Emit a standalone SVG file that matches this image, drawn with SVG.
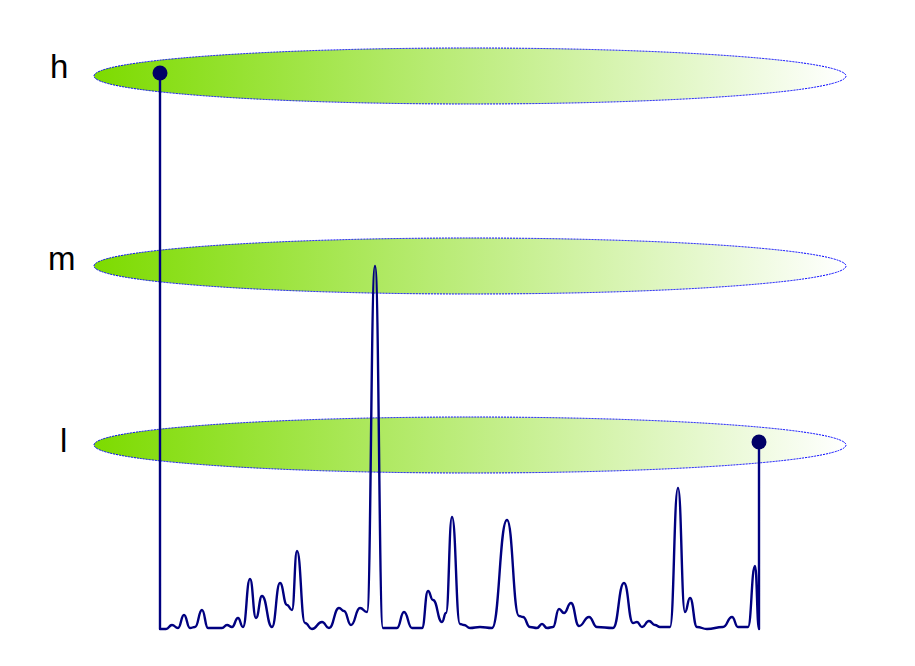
<svg xmlns="http://www.w3.org/2000/svg" width="915" height="666" viewBox="0 0 915 666">
<style>
.lvl{stroke:#0000ff;stroke-width:1;stroke-dasharray:2,1}
.lbl{font-family:"Liberation Sans",Arial,sans-serif;font-size:33px;fill:#000}
.sig{fill:none;stroke:#000080;stroke-width:2.4;stroke-linejoin:round}
.dot{fill:#000066}
</style>
<defs>
<linearGradient id="g" x1="0" y1="0" x2="1" y2="0">
<stop offset="0" stop-color="#7ddb00"/>
<stop offset="1" stop-color="#ffffff"/>
</linearGradient>
</defs>
<rect width="915" height="666" fill="#fff"/>
<g id="level-h">
<ellipse class="lvl" cx="470" cy="76" rx="376" ry="28" fill="url(#g)"/>
<text class="lbl" x="50" y="78">h</text>
</g>
<g id="level-m">
<ellipse class="lvl" cx="470" cy="266" rx="376" ry="28" fill="url(#g)"/>
<text class="lbl" x="48" y="270">m</text>
</g>
<g id="level-l">
<ellipse class="lvl" cx="470" cy="445" rx="376" ry="28" fill="url(#g)"/>
<text class="lbl" x="60" y="452">l</text>
</g>
<g id="connectors">
<path class="sig" d="M160,73 L160,629 C163,629 163,629 166,629 C169,629 169,625 172,625 C175,625 175,628 178,628 C181,628 181,615 184,615 C187,615 187,628 190,628 C192.5,628 192.5,627 195,627 C198.5,627 198.5,610 202,610 C205,610 205,628 208,628 L222,628 C224.5,628 224.5,625 227,625 C229.5,625 229.5,627 232,627 C235,627 235,618 238,618 C240.5,618 240.5,627 243,627 C246.5,627 246.5,579 250,579 C253,579 253,618 256,618 C259,618 259,596 262,596 C267,596 267,627 272,627 C276,627 276,583 280,583 C283.5,583 283.5,605 287,605 C289.5,605 289.5,610 292,610 C294.5,610 294.5,551 297,551 C301,551 301,623 305,623 C308.5,623 308.5,629 312,629 C317,629 317,622 322,622 C325.5,622 325.5,628 329,628 C334,628 334,608 339,608 C341.5,608 341.5,611 344,611 C347.5,611 347.5,625 351,625 C355.5,625 355.5,608 360,608 C363.5,608 363.5,612 367,612 C371,612 371,266 375,266 C379,266 379,628 383,628 L397,628 C400.5,628 400.5,612 404,612 C408,612 408,628 412,628 L422,628 C425,628 425,591 428,591 C430.5,591 430.5,600 433,600 C437.5,600 437.5,622 442,622 C444,622 444,613 446,613 C449,613 449,517 452,517 C456,517 456,624 460,624 C462,624 462,625 464,625 C467,625 467,628 470,628 C475,628 475,627 480,627 C486,627 486,628 492,628 C499.5,628 499.5,520 507,520 C513,520 513,616 519,616 C521,616 521,617 523,617 C526.5,617 526.5,627 530,627 C533.5,627 533.5,628 537,628 C539.5,628 539.5,624 542,624 C544.5,624 544.5,628 547,628 C550,628 550,627 553,627 C556,627 556,609 559,609 C561.5,609 561.5,613 564,613 C567.5,613 567.5,603 571,603 C575,603 575,626 579,626 C584,626 584,617 589,617 C593,617 593,627 597,627 C605,627 605,628 613,628 C618.5,628 618.5,583 624,583 C628.5,583 628.5,623 633,623 C635,623 635,622 637,622 C639.5,622 639.5,627 642,627 C645.5,627 645.5,621 649,621 C652,621 652,625 655,625 C657.5,625 657.5,627 660,627 L670,627 C674,627 674,488 678,488 C681.5,488 681.5,612 685,612 C687.5,612 687.5,598 690,598 C693.5,598 693.5,627 697,627 C702,627 702,629 707,629 C715,629 715,627 723,627 C727.5,627 727.5,617 732,617 C735,617 735,627 738,627 L748,627 C751.5,627 751.5,566 755,566 C757,566 757,629 759,629 L759,442"/>
<circle class="dot" cx="160" cy="73" r="7.5"/>
<circle class="dot" cx="759" cy="442" r="7.5"/>
</g>
</svg>
